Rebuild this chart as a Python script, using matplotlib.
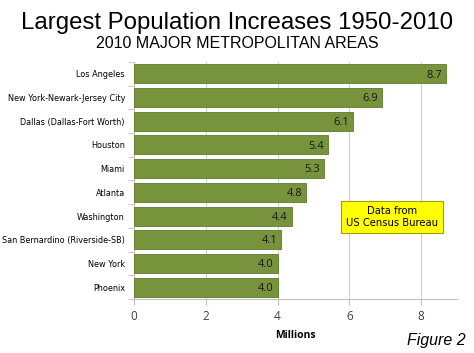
import matplotlib.pyplot as plt
from matplotlib import font_manager

metros = [
    "Los Angeles",
    "New York-Newark-Jersey City",
    "Dallas (Dallas-Fort Worth)",
    "Houston",
    "Miami",
    "Atlanta",
    "Washington",
    "San Bernardino (Riverside-SB)",
    "New York",
    "Phoenix",
]
increase = [8.7, 6.9, 6.1, 5.4, 5.3, 4.8, 4.4, 4.1, 4.0, 4.0]
x_ticks = [0, 2, 4, 6, 8]

# condensed face if there is one, for the Arial Narrow look
cond = [f for f in font_manager.fontManager.ttflist
        if f.stretch == "condensed" and f.style == "normal" and f.weight in (400, "normal")]
narrow_family = cond[0].name if cond else "Liberation Sans"
narrow = dict(family=narrow_family, stretch="condensed")

bar_color = "#77933C"
axis_gray = "#BFBFBF"

fig = plt.figure(figsize=(4.74, 3.53), dpi=100)
ax = fig.add_axes([134 / 474, 1 - 299 / 353, (457 - 134) / 474, (299 - 62) / 353])

pos = list(range(len(metros)))
ax.barh(pos, increase, height=0.8, color=bar_color, edgecolor="#5E7A2C", linewidth=0.6, zorder=3)
ax.set_ylim(len(metros) - 0.5, -0.5)
ax.set_xlim(0, 9)

for p, v in zip(pos, increase):
    ax.text(v - 0.11, p + 0.05, f"{v:.1f}", ha="right", va="center",
            fontsize=8, family="Open Sans", color="#1A1A1A", zorder=4)

ax.set_yticks(pos)
ax.set_yticklabels(metros, fontsize=6.5, **narrow)
ax.set_yticks([p + 0.5 for p in [-1] + pos], minor=True)
ax.tick_params(axis="y", which="major", length=0, pad=6.5)
ax.tick_params(axis="y", which="minor", length=4, color=axis_gray, direction="out")

ax.set_xticks(x_ticks)
ax.set_xticklabels([str(t) for t in x_ticks], family="Open Sans", fontsize=8.5, color="#404040")
ax.tick_params(axis="x", length=4, color=axis_gray, pad=4)
ax.grid(axis="x", color="#D0D0D0", linewidth=0.8, zorder=0)

for side in ("top", "right"):
    ax.spines[side].set_visible(False)
for side in ("left", "bottom"):
    ax.spines[side].set_color(axis_gray)
    ax.spines[side].set_linewidth(0.8)

ax.set_xlabel("Millions", family="Open Sans", fontsize=7.5, fontweight="bold", labelpad=5)

fig.text(0.5, 1 - 23 / 353, "Largest Population Increases 1950-2010", ha="center", va="center",
         family="Liberation Sans", fontsize=17.3)
fig.text(0.5, 1 - 43 / 353, "2010 MAJOR METROPOLITAN AREAS", ha="center", va="center",
         family="Liberation Sans", fontsize=11.5)

ax.text(7.19, 6.04, "Data from\nUS Census Bureau", ha="center", va="center",
        fontsize=8, zorder=5, linespacing=1.15,
        bbox=dict(boxstyle="square,pad=0.45", facecolor="#FFFF00", edgecolor="#A0A000", linewidth=0.8),
        **narrow)

fig.text(466 / 474, 1 - 341 / 353, "Figure 2", ha="right", va="center",
         family="Liberation Sans", fontsize=11.5, fontstyle="italic")

fig.savefig("out.png", dpi=100)
